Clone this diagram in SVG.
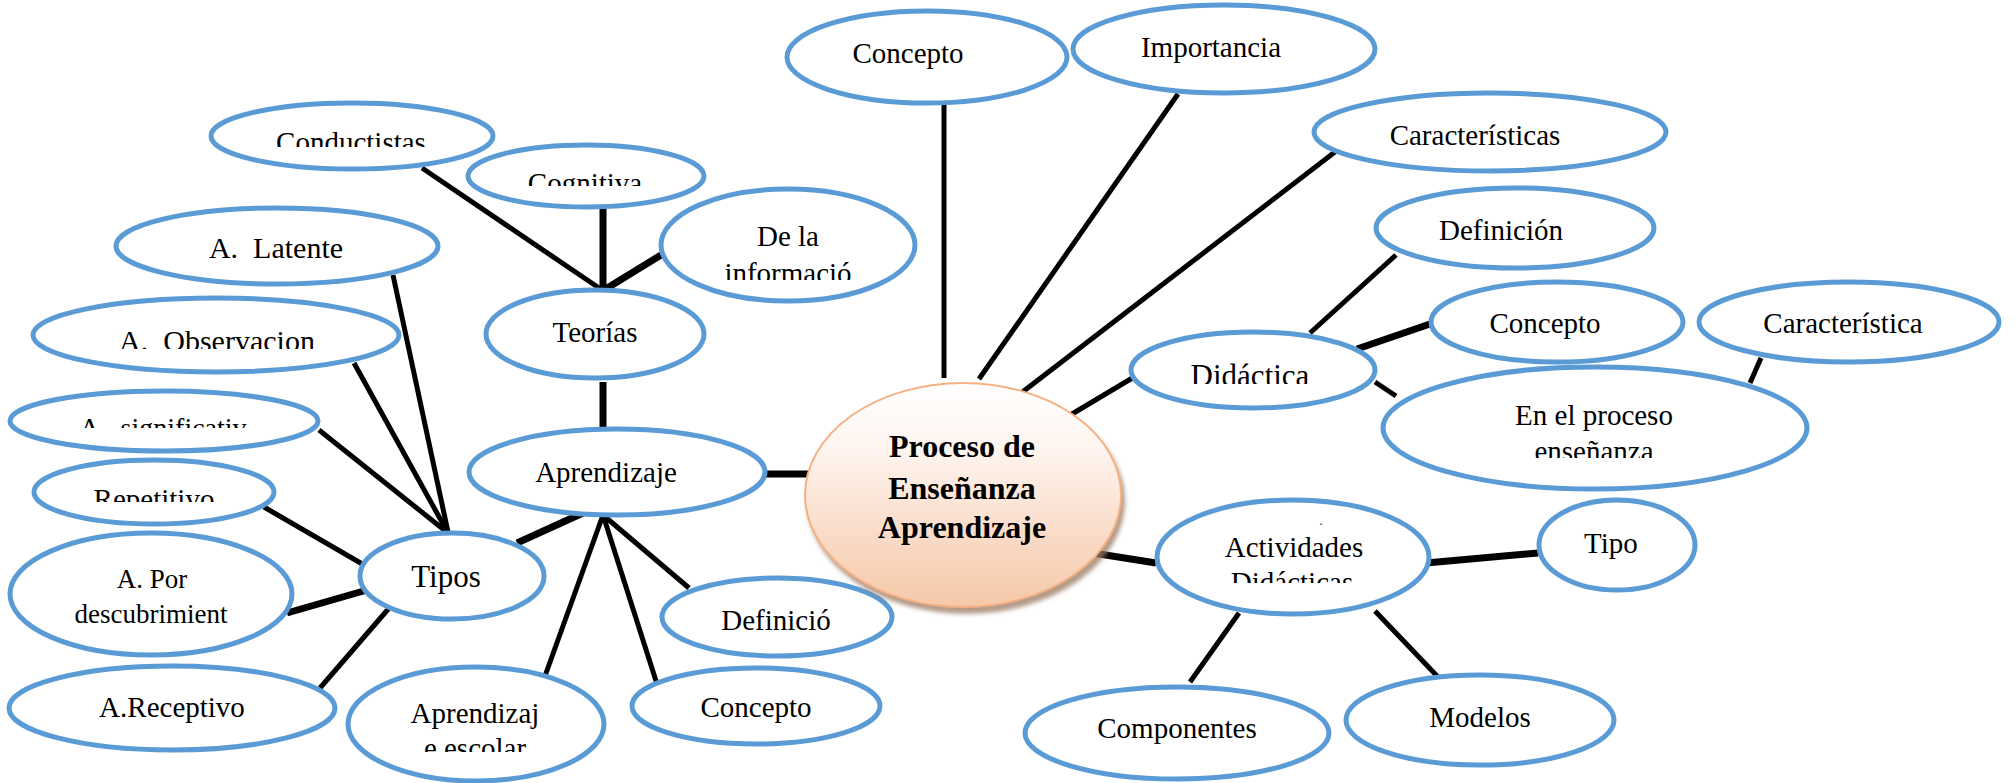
<svg xmlns="http://www.w3.org/2000/svg" width="2015" height="783" viewBox="0 0 2015 783">
<style>
.n{fill:#fff;stroke:#5B9BD5;stroke-width:5}
.t{font-family:"Liberation Serif","Times New Roman",serif;font-size:29px;fill:#000;text-anchor:middle}
.c line{stroke:#000;stroke-width:5;stroke-linecap:butt}
.c .w{stroke-width:7}
</style>
<defs>
<linearGradient id="g" x1="0" y1="0" x2="0" y2="1">
<stop offset="0" stop-color="#FFFFFF"/>
<stop offset="0.3" stop-color="#FEF4EE"/>
<stop offset="0.7" stop-color="#F9DAC6"/>
<stop offset="1" stop-color="#F6C8A8"/>
</linearGradient>
<filter id="sh" x="-20%" y="-20%" width="140%" height="140%">
<feGaussianBlur in="SourceAlpha" stdDeviation="2"/>
<feOffset dx="3" dy="6" result="b"/>
<feFlood flood-color="#9c7a63" flood-opacity="0.75"/>
<feComposite in2="b" operator="in"/>
<feMerge><feMergeNode/><feMergeNode in="SourceGraphic"/></feMerge>
</filter>
<clipPath id="k1"><rect x="0" y="0" width="2015" height="147"/></clipPath>
<clipPath id="k2"><rect x="0" y="0" width="2015" height="186"/></clipPath>
<clipPath id="k3"><rect x="0" y="0" width="2015" height="349"/></clipPath>
<clipPath id="k4"><rect x="0" y="0" width="2015" height="428"/></clipPath>
<clipPath id="k5"><rect x="0" y="0" width="2015" height="502"/></clipPath>
<clipPath id="k6"><rect x="0" y="0" width="2015" height="752"/></clipPath>
<clipPath id="k7"><rect x="0" y="0" width="2015" height="280"/></clipPath>
<clipPath id="k8"><rect x="0" y="0" width="2015" height="384"/></clipPath>
<clipPath id="k9"><rect x="0" y="0" width="2015" height="458"/></clipPath>
<clipPath id="k10"><rect x="0" y="0" width="2015" height="583"/></clipPath>
</defs>
<rect width="2015" height="783" fill="#fff"/>
<g id="connectors" class="c">
<line x1="422" y1="168" x2="602" y2="290"/>
<line x1="603" y1="207" x2="603" y2="290" class="w"/>
<line x1="661" y1="255" x2="604" y2="290" class="w"/>
<line x1="603" y1="382" x2="603" y2="428" class="w"/>
<line x1="393" y1="275" x2="448" y2="532"/>
<line x1="354" y1="363" x2="448" y2="533"/>
<line x1="319" y1="430" x2="448" y2="533"/>
<line x1="264" y1="507" x2="364" y2="565"/>
<line x1="287" y1="613" x2="367" y2="590" class="w"/>
<line x1="320" y1="688" x2="390" y2="607"/>
<line x1="517" y1="543" x2="583" y2="513" class="w"/>
<line x1="603" y1="515" x2="545" y2="676"/>
<line x1="603" y1="515" x2="657" y2="684"/>
<line x1="603" y1="515" x2="689" y2="588"/>
<line x1="766" y1="474" x2="808" y2="474" class="w"/>
<line x1="944" y1="104" x2="944" y2="378"/>
<line x1="1178" y1="94" x2="979" y2="379"/>
<line x1="1344" y1="145" x2="1016" y2="397"/>
<line x1="1134" y1="377" x2="1067" y2="417"/>
<line x1="1396" y1="255" x2="1310" y2="333"/>
<line x1="1357" y1="349" x2="1430" y2="324" class="w"/>
<line x1="1375" y1="382" x2="1396" y2="396"/>
<line x1="1761" y1="358" x2="1750" y2="383"/>
<line x1="1093" y1="553" x2="1156" y2="563" class="w"/>
<line x1="1426" y1="563" x2="1538" y2="553" class="w"/>
<line x1="1239" y1="613" x2="1190" y2="682"/>
<line x1="1375" y1="611" x2="1438" y2="677"/>
</g>
<g id="conductistas"><ellipse class="n" cx="352" cy="136" rx="141" ry="33"/><text class="t" x="351" y="152" clip-path="url(#k1)">Conductistas</text></g>
<g id="cognitiva"><ellipse class="n" cx="586" cy="176" rx="118" ry="31"/><text class="t" x="585" y="193" clip-path="url(#k2)">Cognitiva</text></g>
<g id="delainfo"><ellipse class="n" cx="788" cy="245" rx="127" ry="56"/><text class="t" x="788" y="246">De la</text><text class="t" x="788" y="283" clip-path="url(#k7)">informació</text></g>
<g id="teorias"><ellipse class="n" cx="595" cy="334" rx="109" ry="44"/><text class="t" x="595" y="342">Teorías</text></g>
<g id="latente"><ellipse class="n" cx="277" cy="246" rx="161" ry="38"/><text class="t" x="276" y="258" style="font-size:30px" xml:space="preserve">A.  Latente</text></g>
<g id="observacion"><ellipse class="n" cx="216" cy="335" rx="183" ry="37"/><text class="t" x="217" y="351" style="font-size:30px" clip-path="url(#k3)" xml:space="preserve">A.  Observacion</text></g>
<g id="significativo"><ellipse class="n" cx="164" cy="421" rx="154" ry="30"/><text class="t" x="163" y="437" style="font-size:28px" clip-path="url(#k4)" xml:space="preserve">A.  significativ</text></g>
<g id="repetitivo"><ellipse class="n" cx="154" cy="492" rx="120" ry="32"/><text class="t" x="154" y="509" clip-path="url(#k5)">Repetitivo</text></g>
<g id="descubrimiento"><ellipse class="n" cx="151" cy="594" rx="141" ry="61"/><text class="t" x="152" y="588" style="font-size:27px">A. Por</text><text class="t" x="151" y="623" style="font-size:27px">descubrimient</text></g>
<g id="receptivo"><ellipse class="n" cx="172" cy="708" rx="163" ry="42"/><text class="t" x="172" y="717">A.Receptivo</text></g>
<g id="tipos"><ellipse class="n" cx="452" cy="576" rx="92" ry="43"/><text class="t" x="446" y="587" style="font-size:31px">Tipos</text></g>
<g id="aprendizaje"><ellipse class="n" cx="617" cy="472" rx="148" ry="43"/><text class="t" x="606" y="482">Aprendizaje</text></g>
<g id="escolar"><ellipse class="n" cx="476" cy="724" rx="128" ry="57"/><text class="t" x="475" y="723">Aprendizaj</text><text class="t" x="475" y="758" clip-path="url(#k6)">e escolar</text></g>
<g id="definicio"><ellipse class="n" cx="777" cy="617" rx="115" ry="39"/><text class="t" x="776" y="630">Definició</text></g>
<g id="concepto-b"><ellipse class="n" cx="756" cy="706" rx="124" ry="38"/><text class="t" x="756" y="717">Concepto</text></g>
<g id="central"><ellipse cx="963" cy="495" rx="158" ry="112" fill="url(#g)" stroke="#F4B183" stroke-width="2" filter="url(#sh)"/><text class="t" style="font-size:32px;font-weight:bold"><tspan x="962" y="457">Proceso de</tspan><tspan x="962" y="499">Enseñanza</tspan><tspan x="962" y="538">Aprendizaje</tspan></text></g>
<g id="concepto-t"><ellipse class="n" cx="927" cy="57" rx="140" ry="46"/><text class="t" x="908" y="63">Concepto</text></g>
<g id="importancia"><ellipse class="n" cx="1224" cy="49" rx="151" ry="44"/><text class="t" x="1211" y="57">Importancia</text></g>
<g id="caracteristicas"><ellipse class="n" cx="1490" cy="132" rx="176" ry="39"/><text class="t" x="1475" y="145">Características</text></g>
<g id="definicion"><ellipse class="n" cx="1515" cy="228" rx="139" ry="40"/><text class="t" x="1501" y="240">Definición</text></g>
<g id="didactica"><ellipse class="n" cx="1253" cy="370" rx="122" ry="38"/><text class="t" x="1250" y="386" style="font-size:31px" clip-path="url(#k8)">Didáctica</text></g>
<g id="concepto-r"><ellipse class="n" cx="1557" cy="322" rx="126" ry="40"/><text class="t" x="1545" y="333">Concepto</text></g>
<g id="caracteristica"><ellipse class="n" cx="1849" cy="322" rx="150" ry="40"/><text class="t" x="1843" y="333">Característica</text></g>
<g id="enelproceso"><ellipse class="n" cx="1595" cy="428" rx="212" ry="61"/><text class="t" x="1594" y="425">En el proceso</text><text class="t" x="1594" y="461" clip-path="url(#k9)">enseñanza</text></g>
<g id="actividades"><ellipse class="n" cx="1293" cy="557" rx="136" ry="57"/><text class="t" x="1321" y="525" style="font-size:12px">.</text><text class="t" x="1294" y="557">Actividades</text><text class="t" x="1292" y="592" clip-path="url(#k10)">Didácticas</text></g>
<g id="tipo"><ellipse class="n" cx="1617" cy="545" rx="78" ry="45"/><text class="t" x="1611" y="553">Tipo</text></g>
<g id="componentes"><ellipse class="n" cx="1177" cy="733" rx="152" ry="46"/><text class="t" x="1177" y="738">Componentes</text></g>
<g id="modelos"><ellipse class="n" cx="1480" cy="720" rx="134" ry="45"/><text class="t" x="1480" y="727">Modelos</text></g>
</svg>
